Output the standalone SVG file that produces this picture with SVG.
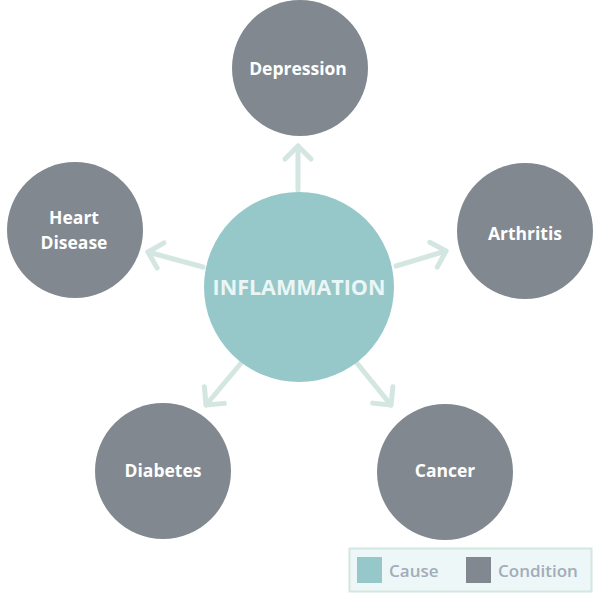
<svg xmlns="http://www.w3.org/2000/svg" width="600" height="600" viewBox="0 0 600 600">
<style>
.cond{fill:#818890}
.cause{fill:#96c8c9}
.lbl{font-family:"Open Sans","Liberation Sans",sans-serif;font-weight:bold;font-size:17.5px;fill:#ffffff;text-anchor:middle}
.main{font-family:"Open Sans","Liberation Sans",sans-serif;font-weight:bold;font-size:21.5px;fill:#eaf6f6;text-anchor:middle}
.conn{stroke:#d4e6e1;stroke-width:5;fill:none;stroke-linecap:round}
.leg{font-family:"Open Sans","Liberation Sans",sans-serif;font-weight:600;font-size:17px;fill:#a3acb8}
</style>
<defs>
<marker id="chev" markerUnits="userSpaceOnUse" viewBox="-20 -20 30 40" markerWidth="30" markerHeight="40" refX="0" refY="0" orient="auto">
<path d="M-13 -13 L0 0 L-13 13" fill="none" stroke="#d4e6e1" stroke-width="5" stroke-linecap="round" stroke-linejoin="round"/>
</marker>
</defs>
<g id="connectors">
<line class="conn" x1="298" y1="190" x2="298" y2="146" marker-end="url(#chev)"/>
<line class="conn" x1="203" y1="267" x2="148" y2="252" marker-end="url(#chev)"/>
<line class="conn" x1="396" y1="266" x2="446" y2="251" marker-end="url(#chev)"/>
<line class="conn" x1="242" y1="362" x2="206" y2="405" marker-end="url(#chev)"/>
<line class="conn" x1="356" y1="362" x2="391" y2="405" marker-end="url(#chev)"/>
</g>
<g id="inflammation">
<circle class="cause" cx="299" cy="287" r="95"/>
<text class="main" x="299" y="295">INFLAMMATION</text>
</g>
<g id="depression">
<circle class="cond" cx="300" cy="68" r="68"/>
<text class="lbl" x="298" y="75">Depression</text>
</g>
<g id="arthritis">
<circle class="cond" cx="525" cy="231" r="68"/>
<text class="lbl" x="525" y="240">Arthritis</text>
</g>
<g id="heart-disease">
<circle class="cond" cx="75" cy="230" r="68"/>
<text class="lbl" x="74" y="224">Heart</text>
<text class="lbl" x="74" y="249">Disease</text>
</g>
<g id="diabetes">
<circle class="cond" cx="163" cy="471" r="68"/>
<text class="lbl" x="163" y="477">Diabetes</text>
</g>
<g id="cancer">
<circle class="cond" cx="445" cy="472" r="68"/>
<text class="lbl" x="445" y="477">Cancer</text>
</g>
<g id="legend">
<rect x="349.5" y="548.5" width="242" height="43" fill="#edf7f7" stroke="#d4e6e1" stroke-width="2"/>
<rect x="357" y="557" width="25" height="26" class="cause"/>
<text class="leg" x="389" y="577">Cause</text>
<rect x="466" y="557" width="25" height="26" class="cond"/>
<text class="leg" x="498" y="577">Condition</text>
</g>
</svg>
